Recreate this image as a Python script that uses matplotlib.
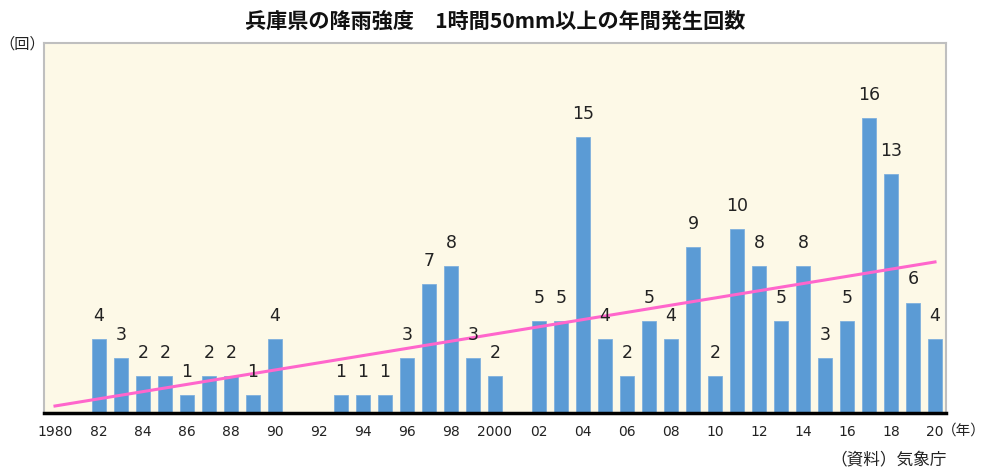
import matplotlib
matplotlib.use("Agg")
import matplotlib.pyplot as plt
import numpy as np

years = list(range(1980, 2021))
counts = [0, 0, 4, 3, 2, 2, 1, 2, 2, 1, 4,
          0, 0, 1, 1, 1, 3, 7, 8, 3, 2,
          0, 5, 5, 15, 4, 2, 5, 4, 9, 2,
          10, 8, 5, 8, 3, 5, 16, 13, 6, 4]
tick_years = list(range(1980, 2021, 2))
tick_labels = ["1980", "82", "84", "86", "88", "90", "92", "94", "96", "98", "2000",
               "02", "04", "06", "08", "10", "12", "14", "16", "18", "20"]
title = "兵庫県の降雨強度　1時間50mm以上の年間発生回数"

plt.rcParams['font.family'] = ['DejaVu Sans', 'Noto Sans CJK JP']
cjk = ['Noto Sans CJK JP', 'DejaVu Sans']

fig = plt.figure(figsize=(9.87, 4.70), dpi=100)
ax = fig.add_axes([44/987, 1-413/470, (946-44)/987, (413-43)/470])
ax.set_facecolor('#FDF9E7')

x = np.array(years)
y = np.array(counts)
ax.bar(x, y, width=0.6, color='#5B9BD5', edgecolor='#7FB0DE', linewidth=0.6, zorder=2)

for xi, yi in zip(x, y):
    if yi > 0:
        ax.annotate(str(yi), (xi, yi), xytext=(0, 13), textcoords='offset points',
                    ha='center', va='baseline', fontsize=12.5, color='#222222', zorder=4)

coef = np.polyfit(x, y, 1)
xl = np.array([1980, 2020])
ax.plot(xl, np.polyval(coef, xl), color='#FF66CC', linewidth=2.2, zorder=3)

ax.set_xlim(1979.5, 2020.5)
ax.set_ylim(0, 20.1)
ax.set_yticks([])
ax.set_xticks(tick_years)
ax.set_xticklabels(tick_labels, fontsize=10, color='#222222')
ax.tick_params(axis='x', length=0, pad=9)

for s in ['left', 'top', 'right']:
    ax.spines[s].set_color('#BFBFBF')
    ax.spines[s].set_linewidth(1.5)
ax.spines['bottom'].set_color('black')
ax.spines['bottom'].set_linewidth(2.5)
ax.spines['bottom'].set_zorder(5)

fig.text(495/987, 1-21/470, title, ha='center', va='center', fontsize=15.2,
         fontweight='bold', family=cjk, color='#111111')
fig.text(22/987, 1-44/470, "（回）", ha='center', va='center', fontsize=11, family=cjk, color='#222222')
fig.text(986/987, 1-431/470, "（年）", ha='right', va='center', fontsize=10.5, family=cjk, color='#222222')
fig.text(947/987, 1-460/470, "（資料）気象庁", ha='right', va='center', fontsize=12, family=cjk, color='#222222')

fig.savefig('out.png', dpi=100)
